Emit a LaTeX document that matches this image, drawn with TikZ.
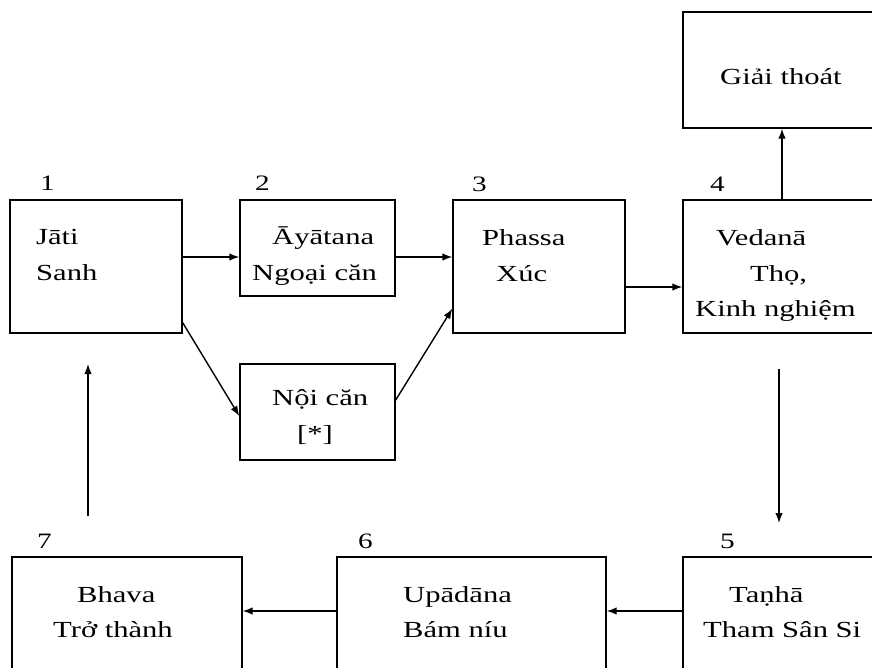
\documentclass[tikz,border=0pt]{standalone}
\usepackage{fontspec}
\setmainfont[FakeStretch=1.33]{Liberation Serif}
\usetikzlibrary{arrows.meta}
\tikzset{
  box/.style={draw=black, line width=1.4pt, rectangle, inner sep=0pt},
  lbl/.style={anchor=base west, inner sep=0pt, font=\fontsize{23}{23}\selectfont},
  num/.style={anchor=base west, inner sep=0pt, font=\fontsize{22}{22}\selectfont},
  arr/.style={line width=1.4pt, -{Latex[length=10pt,width=7.5pt]}}
}
\newcommand{\mkbox}[5]{\node[box, minimum width={#4-#2}, minimum height={#5-#3}] (#1) at ({(#2+#4)/2},{(#3+#5)/2}) {};}
\begin{document}
\begin{tikzpicture}[x=1pt,y=-1pt]
\useasboundingbox (0,0) rectangle (872,668);
% boxes
\mkbox{b1}{10}{200}{182}{333}
\mkbox{b2}{240}{200}{395}{296}
\mkbox{b3}{453}{200}{625}{333}
\mkbox{b4}{683}{200}{880}{333}
\mkbox{bg}{683}{12}{880}{128}
\mkbox{bn}{240}{364}{395}{460}
\mkbox{b7}{12}{557}{242}{690}
\mkbox{b6}{337}{557}{606}{690}
\mkbox{b5}{683}{557}{880}{690}
% numbers
\node[num] (n1) at (40,191) {1};
\node[num] (n2) at (255,191) {2};
\node[num] (n3) at (472,192) {3};
\node[num] (n4) at (710,192) {4};
\node[num] (n5) at (720,548) {5};
\node[num] (n6) at (358,548) {6};
\node[num] (n7) at (37,548) {7};
% texts
\node[lbl] (t1a) at (36,245) {Jāti};
\node[lbl] (t1b) at (36,280) {Sanh};
\node[lbl] (t2a) at (272,245) {Āyātana};
\node[lbl] (t2b) at (252,280) {Ngoại căn};
\node[lbl] (t3a) at (482,246) {Phassa};
\node[lbl] (t3b) at (496,281) {Xúc};
\node[lbl] (t4a) at (716,246) {Vedanā};
\node[lbl] (t4b) at (750,281) {Thọ,};
\node[lbl] (t4c) at (695,316) {Kinh nghiệm};
\node[lbl] (tg) at (720,85) {Giải thoát};
\node[lbl] (tna) at (272,405) {Nội căn};
\node[lbl] (tnb) at (297,441) {[*]};
\node[lbl] (t7a) at (77,602) {Bhava};
\node[lbl] (t7b) at (53,637) {Trở thành};
\node[lbl] (t6a) at (403,602) {Upādāna};
\node[lbl] (t6b) at (403,637) {Bám níu};
\node[lbl] (t5a) at (729,602) {Taṇhā};
\node[lbl] (t5b) at (703,637) {Tham Sân Si};
% connectors
\coordinate (d1) at (779,369);
\coordinate (d2) at (779,523);
\coordinate (u1) at (88,516);
\coordinate (u2) at (88,364);
\draw[arr] (b1.east |- 0,257) -- (b2.west |- 0,257);
\draw[arr] (b2.east |- 0,257) -- (b3.west |- 0,257);
\draw[arr] (b3.east |- 0,287) -- (b4.west |- 0,287);
\draw[arr] (b4.north -| 782,0) -- (bg.south -| 782,0);
\draw[arr] ([yshift=11pt]b1.south east) -- ([yshift=-4pt]bn.west);
\draw[arr] ([yshift=12pt]bn.east) -- ([yshift=25pt]b3.south west);
\draw[arr] (d1) -- (d2);
\draw[arr] (u1) -- (u2);
\draw[arr] (b5.west |- 0,611) -- (b6.east |- 0,611);
\draw[arr] (b6.west |- 0,611) -- (b7.east |- 0,611);
\end{tikzpicture}
\end{document}
